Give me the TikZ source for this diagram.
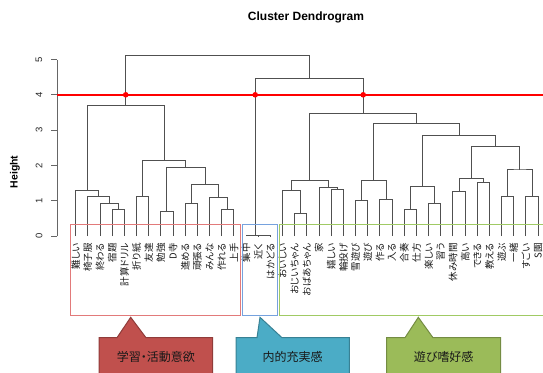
\documentclass[tikz,border=0pt]{standalone}
\usepackage{fontspec}
\setmainfont{Liberation Sans}
\newfontfamily\jpfont[RawFeature=+palt]{Noto Sans CJK JP}
\definecolor{treegray}{RGB}{80,80,80}
\definecolor{grpred}{RGB}{226,122,122}
\definecolor{grpblue}{RGB}{118,162,222}
\definecolor{grpgreen}{RGB}{160,202,100}
\definecolor{calred}{RGB}{192,80,77}
\definecolor{calblue}{RGB}{75,172,198}
\definecolor{calgreen}{RGB}{155,187,89}
\newcommand\clmerge[5]{\coordinate (#1) at (#4,#5); \draw [branch] (#2) |- (#1) -| (#3);}

\begin{document}
\begin{tikzpicture} [
    x=1pt, y=-1pt,
    every node/.append style={inner sep=0pt},
    branch/.style={draw=treegray, line width=1pt},
    leaf label/.style={rotate=90, anchor=east, text=black!90, font=\jpfont\fontsize{9.5}{10}\selectfont},
    tick label/.style={rotate=90, text=black!85, font=\fontsize{9.5}{11}\selectfont},
    group box/.style={line width=0.9pt},
    cut line/.style={draw=red, line width=1.8pt},
    callout text/.style={text=black!90, font=\jpfont\fontsize{12}{14}\selectfont}
  ]

  \useasboundingbox (0,0) rectangle (543,372);

  \node [font=\bfseries\fontsize{12}{14}\selectfont] (title) at (306,17) {Cluster Dendrogram};
  \node [font=\bfseries\fontsize{10.5}{12}\selectfont, rotate=90] (ylabel) at (15,172) {Height};

  \draw [draw=black!60, line width=0.9pt] (57,236) -- (57,59.5);
  \foreach \h in {0,...,5} {
    \draw [draw=black!60, line width=0.9pt] (57,{236-35.3*\h}) -- (51,{236-35.3*\h});
    \node [tick label] (tick\h) at (39,{236-35.3*\h}) {\h};
  }

  \begin{scope} [shift={(63.53,236)}, x=12.17pt, y=35.3pt]
    \foreach \t [count=\i] in {難しい,椅子服,終わる,宿題,計算ドリル,折り紙,友達,勉強,D寺,進める,頑張る,みんな,作れる,上手,集中,近く,はかどる,おいしい,おじいちゃん,おばあちゃん,家,嬉しい,輪投げ,雪遊び,遊び,作る,入る,合奏,仕方,楽しい,習う,休み時間,高い,できる,教える,遊ぶ,一緒,すごい,S園} {
      \coordinate (l\i) at (\i,0);
      \node [leaf label] (t\i) at (\i,-0.2) {\t};
    }
    % 学習・活動意欲
    \clmerge{r45}{l4}{l5}{4.5}{0.76}
    \clmerge{r3}{l3}{r45}{3.75}{0.91}
    \clmerge{r2}{l2}{r3}{2.875}{1.11}
    \clmerge{rA}{l1}{r2}{1.9375}{1.28}
    \clmerge{r67}{l6}{l7}{6.5}{1.11}
    \clmerge{r89}{l8}{l9}{8.5}{0.69}
    \clmerge{r1011}{l10}{l11}{10.5}{0.93}
    \clmerge{r1314}{l13}{l14}{13.5}{0.74}
    \clmerge{rE}{l12}{r1314}{12.75}{1.09}
    \clmerge{rD}{r1011}{rE}{11.625}{1.46}
    \clmerge{rC}{r89}{rD}{10.0625}{1.94}
    \clmerge{rB}{r67}{rC}{8.28125}{2.13}
    \clmerge{redtop}{rA}{rB}{5.109}{3.69}
    % 内的充実感
    \clmerge{b1617}{l16}{l17}{16.5}{0.01}
    \clmerge{bluetop}{l15}{b1617}{15.75}{0.02}
    % 遊び嗜好感
    \clmerge{g1920}{l19}{l20}{19.5}{0.64}
    \clmerge{g18}{l18}{g1920}{18.75}{1.30}
    \clmerge{g2223}{l22}{l23}{22.5}{1.33}
    \clmerge{g21}{l21}{g2223}{21.75}{1.37}
    \clmerge{gL}{g18}{g21}{20.25}{1.57}
    \clmerge{g2425}{l24}{l25}{24.5}{1.00}
    \clmerge{g2627}{l26}{l27}{26.5}{1.04}
    \clmerge{gM}{g2425}{g2627}{25.5}{1.56}
    \clmerge{g2829}{l28}{l29}{28.5}{0.74}
    \clmerge{g3031}{l30}{l31}{30.5}{0.93}
    \clmerge{gP}{g2829}{g3031}{29.5}{1.40}
    \clmerge{g3233}{l32}{l33}{32.5}{1.26}
    \clmerge{g3435}{l34}{l35}{34.5}{1.51}
    \clmerge{gQ}{g3233}{g3435}{33.5}{1.63}
    \clmerge{g3637}{l36}{l37}{36.5}{1.11}
    \clmerge{g3839}{l38}{l39}{38.5}{1.11}
    \clmerge{gR}{g3637}{g3839}{37.5}{1.87}
    \clmerge{gS}{gQ}{gR}{35.5}{2.53}
    \clmerge{gT}{gP}{gS}{32.5}{2.86}
    \clmerge{gU}{gM}{gT}{29}{3.19}
    \clmerge{greentop}{gL}{gU}{24.625}{3.47}
    \clmerge{righttop}{bluetop}{greentop}{20.1875}{4.45}
    \clmerge{root}{redtop}{righttop}{12.648}{5.12}
  \end{scope}

  \draw [group box, draw=grpred] (70.7,224.3) rectangle (240.5,315.7);
  \draw [group box, draw=grpblue] (242.3,224.3) rectangle (277.5,315.7);
  \draw [group box, draw=grpgreen] (279,224.3) rectangle (548,315.7);

  \coordinate (cutA) at (57,94.8);
  \coordinate (cutB) at (543,94.8);
  \draw [cut line] (cutA) -- (cutB);
  \foreach \s in {redtop,bluetop,greentop}
    \fill [red] (\s |- cutA) circle (2.8);

  \path [fill=calred, draw=calred!75!black, line width=1pt] (99,375) |- (117,337.7) -- (130.7,317.3) -- (146,337.7) -| (212.7,375) -- cycle;
  \path [fill=calblue, draw=calblue!75!black, line width=1pt] (236,375) |- (257,337.7) -- (260,317.3) -- (282,337.7) -| (349.3,375) -- cycle;
  \path [fill=calgreen, draw=calgreen!75!black, line width=1pt] (386.7,375) |- (405,337.7) -- (418.3,317.3) -- (433,337.7) -| (500.7,375) -- cycle;
  \node [callout text] (motive) at (155.9,357) {学習・活動意欲};
  \node [callout text] (fulfil) at (292.7,357) {内的充実感};
  \node [callout text] (play) at (443.7,357) {遊び嗜好感};
\end{tikzpicture}
\end{document}
